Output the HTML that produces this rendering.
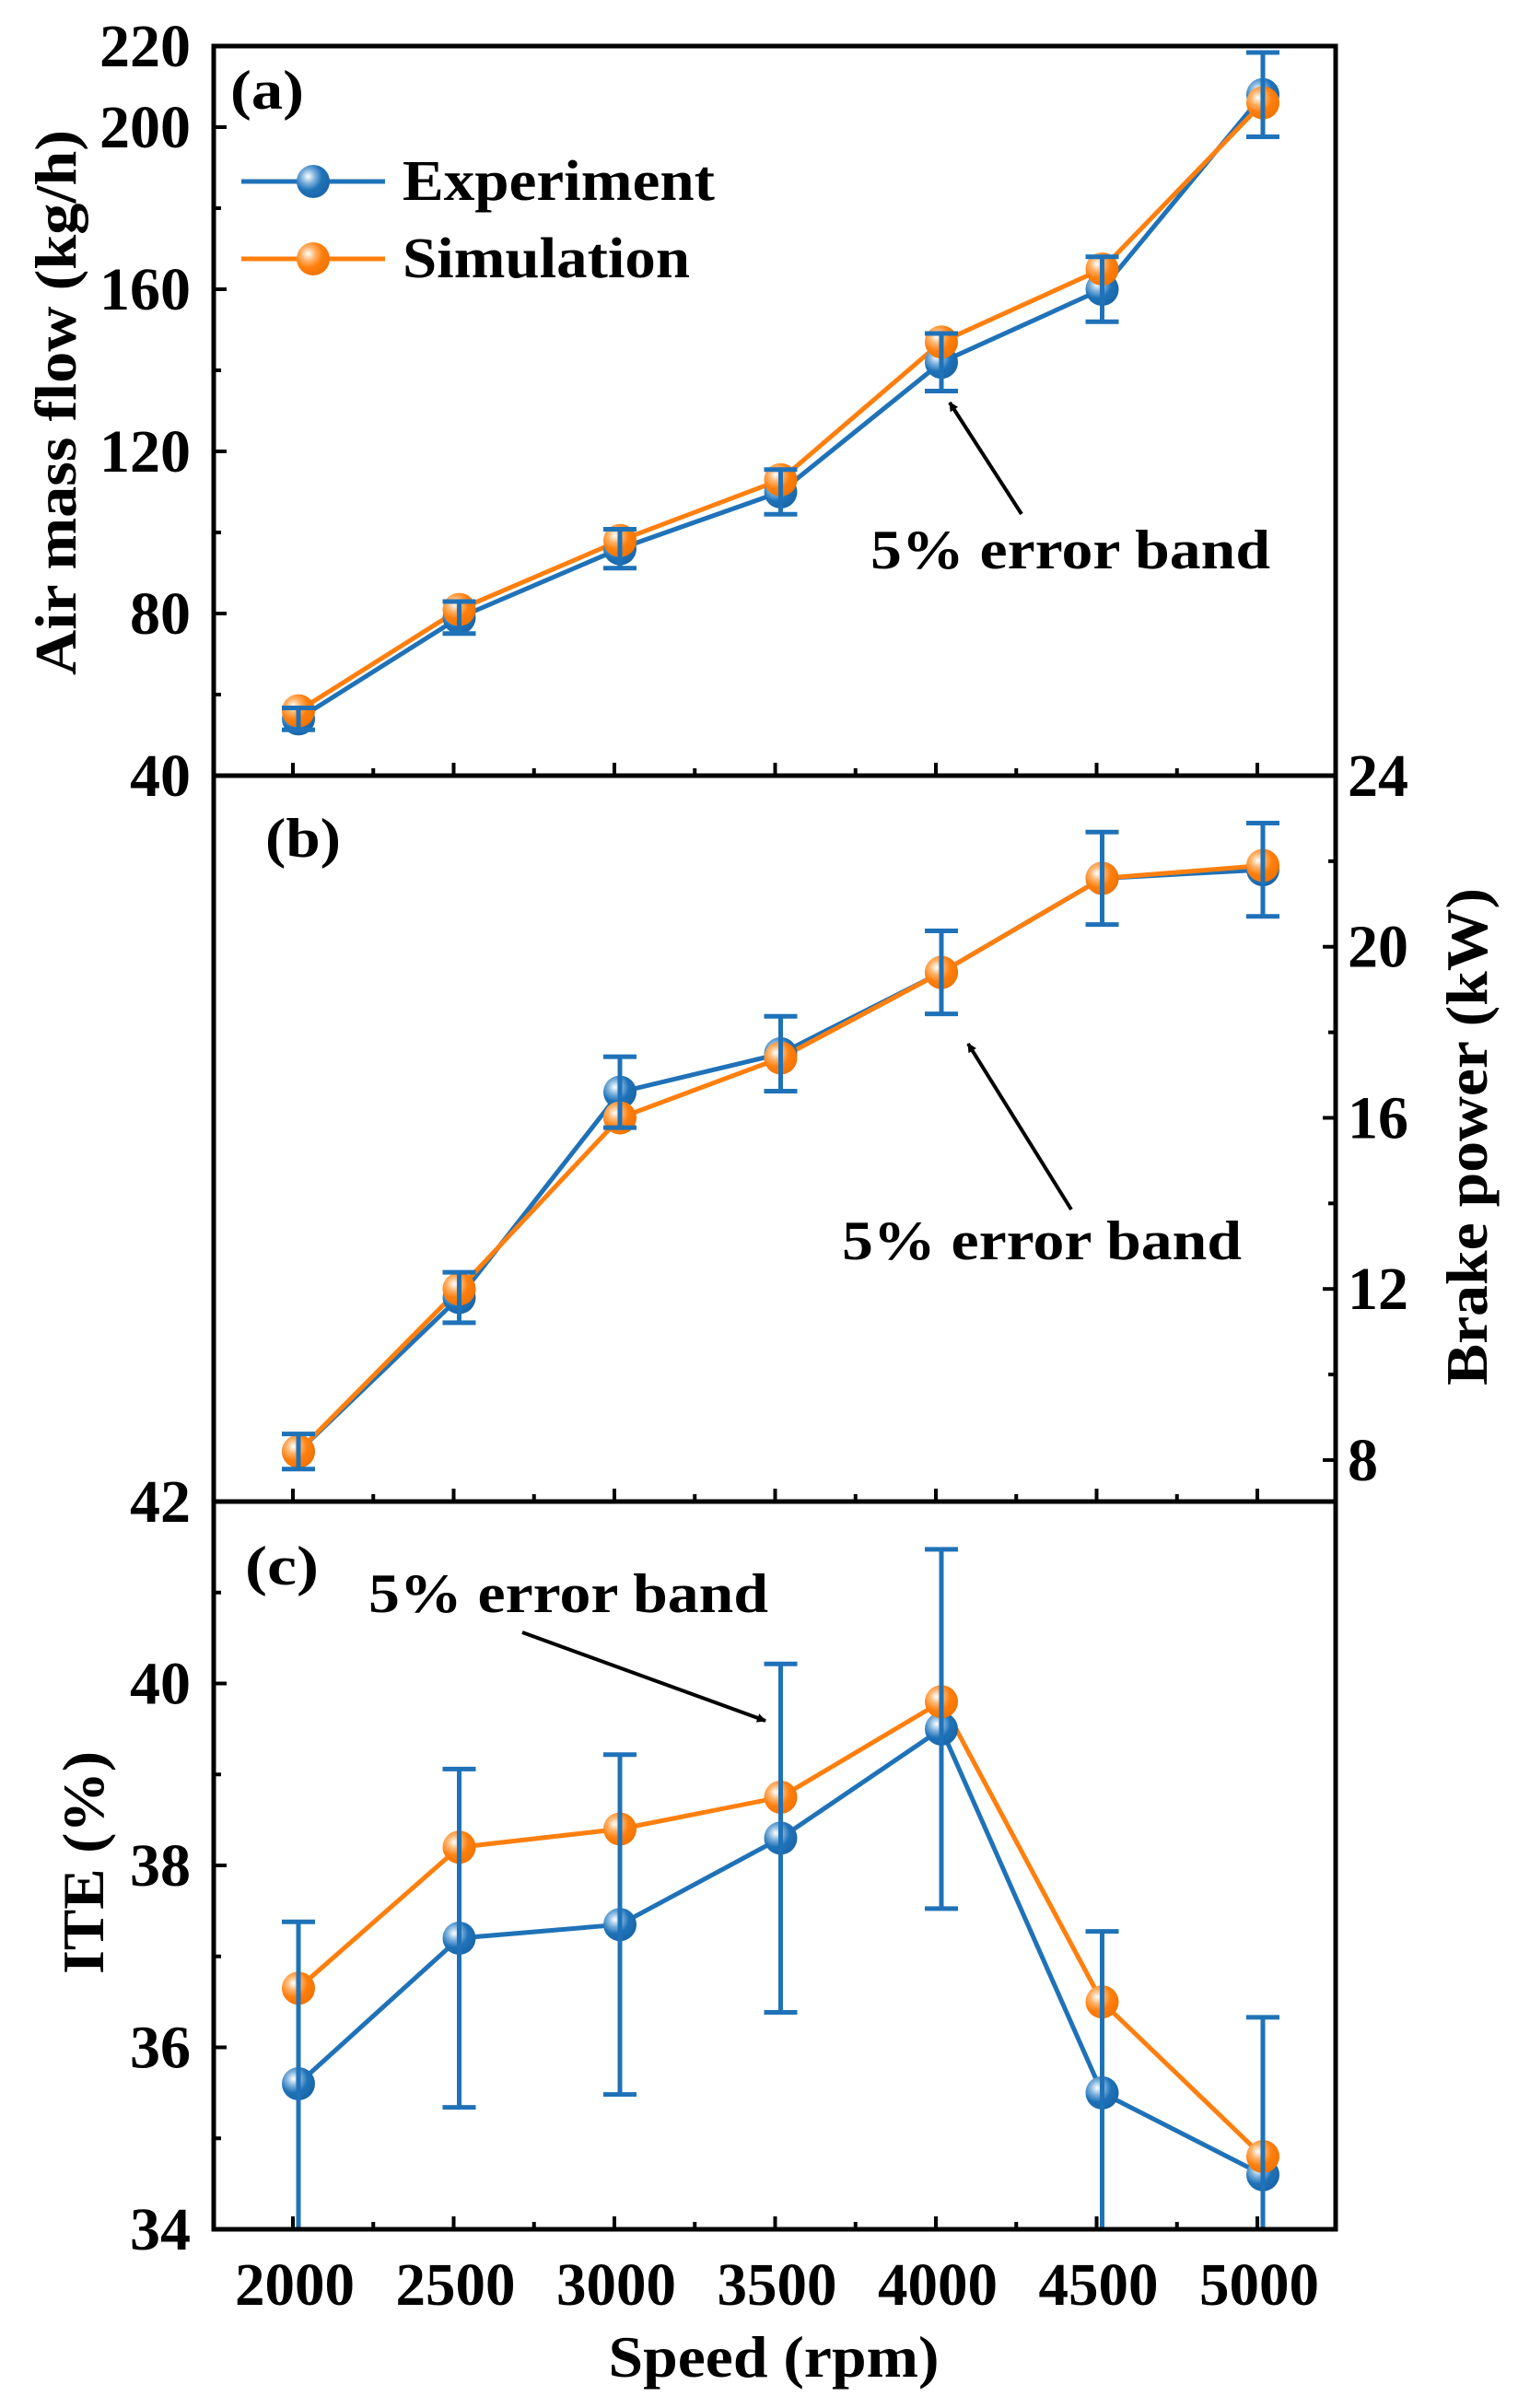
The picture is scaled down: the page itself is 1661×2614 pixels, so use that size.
<!DOCTYPE html>
<html><head><meta charset="utf-8"><style>
html,body{margin:0;padding:0;background:#fff}
svg{display:block}
text{font-family:"Liberation Serif",serif;font-weight:bold;fill:#000}
</style></head><body>
<svg id="chart" width="1661" height="2614" viewBox="0 0 1661 2614">
<defs>
<radialGradient id="gb" cx="0.35" cy="0.35" r="0.7"><stop offset="0" stop-color="#ffffff"/><stop offset="0.3" stop-color="#7fb2dc"/><stop offset="0.6" stop-color="#1f72b8"/><stop offset="1" stop-color="#1a66a8"/></radialGradient>
<radialGradient id="go" cx="0.35" cy="0.35" r="0.7"><stop offset="0" stop-color="#ffffff"/><stop offset="0.3" stop-color="#ffb36b"/><stop offset="0.6" stop-color="#ff7f0e"/><stop offset="1" stop-color="#f07300"/></radialGradient>
<marker id="ah" markerWidth="10" markerHeight="10" refX="9" refY="5" orient="auto" markerUnits="userSpaceOnUse" viewBox="0 0 10 10"><path d="M0,0 L10,5 L0,10 z" fill="#000"/></marker>
</defs>
<g id="root"></g>
</svg>
<script>
const speeds=[2000,2500,3000,3500,4000,4500,5000];
const xTicks=["2000","2500","3000","3500","4000","4500","5000"];
const airExp=[54,79,96,110,142,160,208];
const airSim=[56,81,98,113,147,165,206];
const powExp=[8.2,11.8,16.6,17.5,19.4,21.6,21.8];
const powSim=[8.2,12.0,16.0,17.4,19.4,21.6,21.9];
const iteExp=[35.6,37.2,37.35,38.3,39.5,35.5,34.6];
const iteSim=[36.65,38.2,38.4,38.75,39.8,36.5,34.8];
const airTicks=[40,80,120,160,200,220];
const powTicks=[8,12,16,20,24];
const iteTicks=[34,36,38,40,42];

const NS="http://www.w3.org/2000/svg";
const root=document.getElementById('root');
function mk(tag,attrs,parent){const e=document.createElementNS(NS,tag);for(const k in attrs)e.setAttribute(k,attrs[k]);(parent||root).appendChild(e);return e;}
const L=232,R=1450;
function X(s){return 318+(s-2000)/500*174.5+6;}
const BLUE="#1f72b8",ORANGE="#ff7f0e";

const panels=[
 {id:'a',top:50,bot:842,min:40,max:220,exp:airExp,sim:airSim,ticks:airTicks,side:'left',minor:20},
 {id:'b',top:842,bot:1630,min:7.03,max:24,exp:powExp,sim:powSim,ticks:powTicks,side:'right',minor:2},
 {id:'c',top:1630,bot:2420,min:34,max:42,exp:iteExp,sim:iteSim,ticks:iteTicks,side:'left',minor:1}
];
panels.forEach(p=>{
  const g=mk('g',{});
  
  
  const Y=v=>p.bot-(v-p.min)/(p.max-p.min)*(p.bot-p.top);
  const clip=mk('clipPath',{id:'clip'+p.id},g);
  mk('rect',{x:L,y:p.top,width:R-L,height:p.bot-p.top},clip);
  speeds.forEach((s,i)=>{
    const t=mk('line',{x1:X(s)-6,x2:X(s)-6,y1:p.bot,y2:p.bot-14,stroke:'#000','stroke-width':4},g);
    
    
    if(i<speeds.length-1){const m=mk('line',{x1:X(s+250)-6,x2:X(s+250)-6,y1:p.bot,y2:p.bot-8,stroke:'#000','stroke-width':4},g);
      
      }
  });
  const ax=p.side==='left'?L:R, dir=p.side==='left'?1:-1;
  for(let v=Math.ceil(p.min/p.minor)*p.minor;v<=p.max+0.001;v+=p.minor){
    const major=p.ticks.includes(Math.round(v*100)/100);
    const t=mk('line',{x1:ax,x2:ax+dir*(major?14:8),y1:Y(v),y2:Y(v),stroke:'#000','stroke-width':4},g);
    
    
  }
  p.ticks.forEach(v=>{
    const tx=mk('text',{x:p.side==='left'?207:1463,y:Y(v)+22,'font-size':66,'text-anchor':p.side==='left'?'end':'start'},g);
    tx.textContent=v;
    
    
  });
  const cg=mk('g',{'clip-path':'url(#clip'+p.id+')'},g);
  const ep=mk('polyline',{points:p.exp.map((v,i)=>X(speeds[i])+','+Y(v)).join(' '),fill:'none',stroke:BLUE,'stroke-width':5},cg);
  
  
  const sp=mk('polyline',{points:p.sim.map((v,i)=>X(speeds[i])+','+Y(v)).join(' '),fill:'none',stroke:ORANGE,'stroke-width':5},cg);
  
  
  p.exp.forEach((v,i)=>{const c=mk('circle',{cx:X(speeds[i]),cy:Y(v),r:18,fill:'url(#gb)'},cg);
    
    });
  p.sim.forEach((v,i)=>{const c=mk('circle',{cx:X(speeds[i]),cy:Y(v),r:18,fill:'url(#go)'},cg);
    
    });
  p.exp.forEach((v,i)=>{
    const x=X(speeds[i]),y1=Y(v*1.05),y2=Y(v*0.95);
    const eb=mk('path',{d:`M${x},${y1}V${y2}M${x-18},${y1}H${x+18}M${x-18},${y2}H${x+18}`,stroke:BLUE,'stroke-width':5,fill:'none'},cg);
    
    
  });
  const fr=mk('rect',{x:L,y:p.top,width:R-L,height:p.bot-p.top,fill:'none',stroke:'#000','stroke-width':5},g);
  
  
});
speeds.forEach((s,i)=>{const t=mk('text',{x:X(s)-4,y:2502,'font-size':66,'text-anchor':'middle',textLength:130,lengthAdjust:'spacingAndGlyphs'});t.textContent=xTicks[i];
  
  });
function txt(str,attrs,name){const t=mk('text',attrs);t.textContent=str;return t;}
const fit={lengthAdjust:'spacingAndGlyphs'};
txt('Speed (rpm)',Object.assign({x:840,y:2580,'font-size':64,'text-anchor':'middle',textLength:359},fit),'x-axis-title');
txt('Air mass flow (kg/h)',Object.assign({x:0,y:0,'font-size':64,'text-anchor':'middle',textLength:592,transform:'translate(82,437) rotate(-90)'},fit),'y-axis-title-air');
txt('Brake power (kW)',Object.assign({x:0,y:0,'font-size':64,'text-anchor':'middle',textLength:540,transform:'translate(1614,1234) rotate(-90)'},fit),'y-axis-title-power');
txt('ITE (%)',Object.assign({x:0,y:0,'font-size':64,'text-anchor':'middle',textLength:242,transform:'translate(112,2022) rotate(-90)'},fit),'y-axis-title-ite');
txt('(a)',Object.assign({x:250,y:118,'font-size':60,textLength:80},fit),'panel-label-a');
txt('(b)',Object.assign({x:288,y:930,'font-size':60,textLength:82},fit),'panel-label-b');
txt('(c)',Object.assign({x:266,y:1720,'font-size':60,textLength:80},fit),'panel-label-c');
const lg=mk('g',{});


[[BLUE,'url(#gb)','Experiment',197,339],[ORANGE,'url(#go)','Simulation',281,312]].forEach(([c,f,l,y,w])=>{
  mk('line',{x1:262,x2:418,y1:y,y2:y,stroke:c,'stroke-width':5},lg);
  mk('circle',{cx:340,cy:y,r:18,fill:f},lg);
  const t=mk('text',{x:437,y:y+20,'font-size':62,textLength:w,lengthAdjust:'spacingAndGlyphs'},lg);t.textContent=l;
  
  
});
function ann(tx,ty,x1,y1,x2,y2,n){
  txt('5% error band',{x:tx,y:ty,'font-size':60,textLength:434,lengthAdjust:'spacingAndGlyphs'},n+'-text');
  const a=mk('line',{x1,y1,x2,y2,stroke:'#000','stroke-width':4,'marker-end':'url(#ah)'});
  
  
}
ann(945,617,1109,558,1031,437,'annotation-a');
ann(914,1367,1163,1313,1051,1133,'annotation-b');
ann(400,1750,567,1772,831,1868,'annotation-c');
</script>
</body></html>
